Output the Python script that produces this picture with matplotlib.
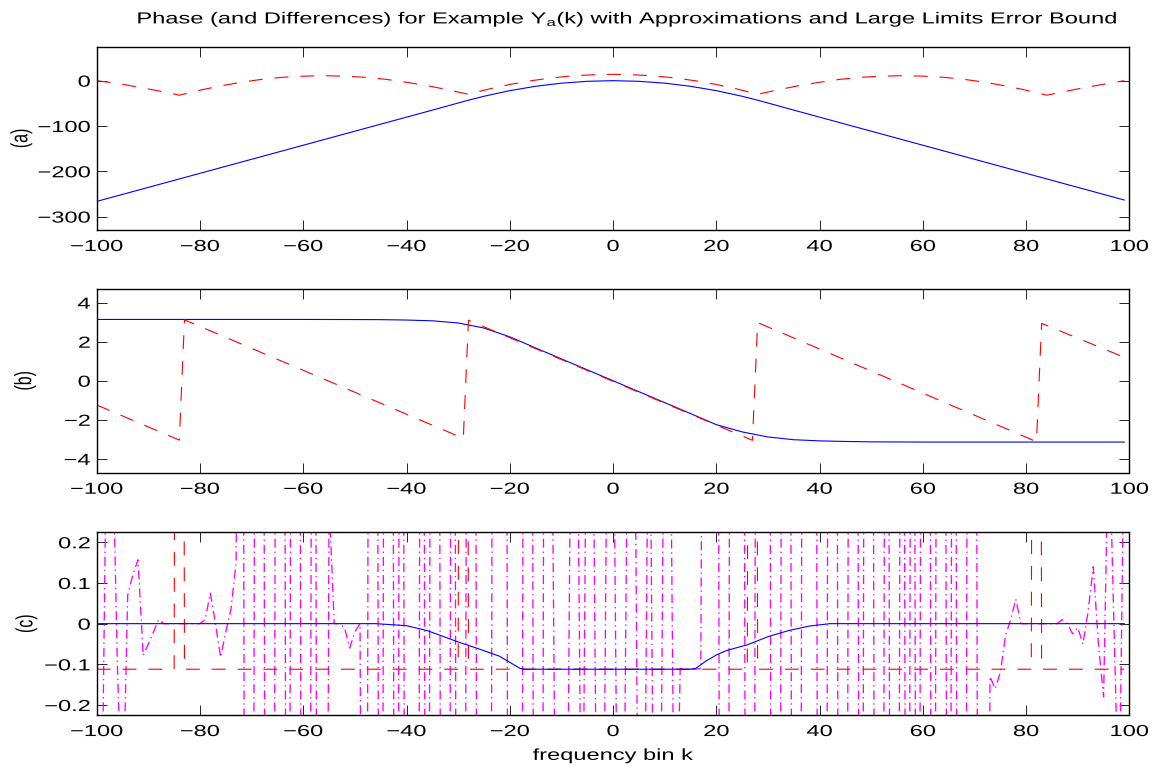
import numpy as np
import matplotlib
matplotlib.use("Agg")
import matplotlib.pyplot as plt
from matplotlib import patheffects
from matplotlib.transforms import Affine2D

plt.rcParams['font.family'] = ['Liberation Sans', 'DejaVu Sans']
plt.rcParams['mathtext.fontset'] = 'custom'
plt.rcParams['mathtext.rm'] = 'Liberation Sans'
plt.rcParams['lines.scale_dashes'] = False

# --- data ---
k_blue_a = [-100, -90, -80, -70, -60, -50, -40, -35, -30, -28, -25, -20, -15, -10, -5, 0,
            5, 10, 15, 20, 25, 28, 30, 35, 40, 50, 60, 70, 80, 90, 99]
blue_a = [-266.5, -235.5, -204.5, -173.5, -142.5, -111.5, -80.5, -65, -49.3, -43.1, -34.4, -22, -12.4, -5.5, -1.4, 0,
          -1.4, -5.5, -12.4, -22, -34.4, -43.1, -49.3, -65, -80.5, -111.5, -142.5, -173.5, -204.5, -235.5, -263.4]

k_red_a = [-100, -96, -92, -88, -84, -80, -76, -72, -68, -64, -60, -56, -52, -48, -44, -40, -36, -32, -28,
           -24, -20, -16, -12, -8, -4, 0, 4, 8, 12, 16, 20, 24,
           28, 32, 36, 40, 44, 48, 52, 56, 60, 64, 68, 72, 76, 80, 84, 88, 92, 96, 99]
red_a = [0, -6, -14, -22.5, -32, -21, -11.5, -3.5, 3, 7.5, 10, 11, 10, 7.5, 3, -3.5, -11, -20, -30,
         -18.3, -8.4, -0.3, 6, 10.5, 13, 14, 13, 10.5, 6, -0.3, -8.4, -18.3,
         -30, -20, -11, -3.5, 3, 7.5, 10, 11, 10, 7.5, 3, -3.5, -11.5, -21, -32, -22.5, -14, -6, 0]

k_blue_b = [-100, -60, -50, -45, -40, -35, -30, -25, -20, -15, -10, -5, 0,
            5, 10, 15, 20, 25, 30, 35, 40, 45, 50, 60, 99]
blue_b = [3.14, 3.14, 3.135, 3.13, 3.11, 3.07, 2.96, 2.7, 2.25, 1.68, 1.12, 0.56, 0,
          -0.56, -1.12, -1.68, -2.25, -2.62, -2.88, -3.02, -3.08, -3.11, -3.13, -3.14, -3.14]

k_red_b = [-100, -84, -83, -29, -28, 27, 28, 82, 83, 99]
red_b = [-1.24, -3.04, 3.12, -2.95, 3.1, -3.05, 2.98, -3.12, 2.94, 1.2]

k_blue_c = [-100, -46, -40, -36, -30, -26, -22, -20, -18, -17, 15, 16, 18, 20, 22, 26, 30, 34, 38, 42, 99]
blue_c = [0, 0, -0.005, -0.017, -0.045, -0.062, -0.08, -0.095, -0.11, -0.112, -0.112, -0.11,
          -0.092, -0.077, -0.066, -0.052, -0.032, -0.017, -0.006, 0, 0]

k_red_c = [-100, -85, -84, -83, -30, -29, -28, 26, 27, 28, 81, 82, 83, 99]
red_c = [-0.112, -0.112, 6.17, -0.112, -0.112, 6.17, -0.112, -0.112, 6.17, -0.112, -0.112, 6.17, -0.112, -0.112]

k_mag = np.arange(-100, 100)
mag_c = [
    -0.6, -0.5, 0.6, 0.5, -0.1, -0.5, 0.07, 0.12, 0.157, -0.078,
    -0.05, -0.02, 0.01, 0.0, 0.0, 0.0, 0.0, 0.0, 0.0, 0.0,
    0.0, 0.01, 0.075, 0.0, -0.083, -0.02, 0.035, 0.15,
    3.1, -3.0, -2.9, 3.0, 2.8, -3.1, -3.0, 2.9, 3.1, -2.8,
    3.0, 2.9, -3.1, -2.9, 3.0, -3.0, -2.9, 0.3, 0.0, 0.0,
    -0.01, -0.06, -0.02, 0.0,
    -3.0, 3.0, 2.9, -3.0, 3.1, 2.9, -3.0, 3.0, -2.9, -3.1,
    -3.0, 3.0, -3.0, 3.1, 2.9, -3.0, -2.9, 3.0, -3.1, -3.0,
    2.9, 3.0, -3.0, -2.9, -3.1, 3.0, 2.9, 3.1, -3.0, -2.9,
    -3.0, 3.0, 2.9, -3.0, -2.9, 3.0,
    0.8, -0.8, -0.7, -0.8, 0.8, 0.7, -0.8, 0.8, 0.7, -0.8,
    -0.9, 0.8, 0.7, -0.8, -0.7, 0.8, 0.9, -0.8, -0.7, 0.8,
    -0.8, -0.9, 0.8, 0.7, -0.8, -0.11,
    -0.112, -0.112, -0.112, -0.11, 3.0, 2.9, 3.1, -3.0, -2.9, 3.0,
    2.9, 3.1, -3.0, -2.9, 3.0, 3.1, 2.9, -3.0, -3.1, 3.0,
    2.9, -3.0, -2.9, 3.0, 3.1, 2.9, -3.0, -3.1, 3.0, 2.9,
    -3.0, -2.9, 3.0, 3.1, -3.0, 3.0, 2.9, -3.0, -2.9, 3.0,
    -3.0, -2.9, 3.0, -3.0, 3.0, -3.0, 3.0, 2.9, -3.0, 3.0,
    3.1, -3.0, 3.0, -3.0, -2.9, 3.0, 2.9, -3.0, -2.9,
    -0.13, -0.16, -0.12, -0.03, 0.01, 0.06, 0.0, 0.0, 0.0, 0.0,
    0.0, 0.0, 0.0, 0.0, 0.01, 0.0, -0.025, -0.01, -0.05, 0.03,
    0.14, -0.05, -0.18, 0.5, 0.0, -0.5, 0.5,
]

xticks = [-100, -80, -60, -40, -20, 0, 20, 40, 60, 80, 100]
xticklabels = ['\u2212100', '\u221280', '\u221260', '\u221240', '\u221220', '0',
               '20', '40', '60', '80', '100']
yticks_a = [-300, -200, -100, 0]
yticklabels_a = ['\u2212300', '\u2212200', '\u2212100', '0']
yticks_b = [-4, -2, 0, 2, 4]
yticklabels_b = ['\u22124', '\u22122', '0', '2', '4']
yticks_c = [-0.2, -0.1, 0, 0.1, 0.2]
yticklabels_c = ['\u22120.2', '\u22120.1', '0', '0.1', '0.2']

title = 'Phase (and Differences) for Example $\\mathregular{Y_a}$(k) with Approximations and Large Limits Error Bound'


class StretchX(patheffects.AbstractPathEffect):
    # widen glyphs horizontally, the reference text is stretched
    def __init__(self, sx, anchor='center'):
        super().__init__()
        self.sx = sx
        self.anchor = anchor

    def draw_path(self, renderer, gc, tpath, affine, rgbFace=None):
        ext = affine.transform_path(tpath).get_extents()
        x0 = ext.x1 if self.anchor == 'right' else 0.5 * (ext.x0 + ext.x1)
        t = affine + Affine2D().translate(-x0, 0).scale(self.sx, 1).translate(x0, 0)
        renderer.draw_path(gc, tpath, t, rgbFace)


SX = 1.48
FS = 11.5
W, H = 1153, 765
fig = plt.figure(figsize=(W / 100, H / 100), dpi=100)
fig.patch.set_facecolor('white')

left = 96.7 / W
width = 1032.7 / W
boxes = [(46.7, 230.0), (288.8, 472.7), (532.3, 715.0)]
axes = [fig.add_axes([left, 1 - b / H, width, (b - t) / H]) for t, b in boxes]

dash = (0, (10, 8.6))
dashdot = (0, (6.5, 2.8, 1.0, 2.8))
lw = 0.8

ax = axes[0]
ax.plot(k_blue_a, blue_a, color='blue', lw=lw)
ax.plot(k_red_a, red_a, color='red', lw=lw, linestyle=dash)
ax.set_ylim(-329.6, 75)
ax.set_yticks(yticks_a)
ax.set_yticklabels(yticklabels_a)
ax.set_ylabel('(a)')
ax.yaxis.set_label_coords(-0.0627, 0.5)

ax = axes[1]
ax.plot(k_blue_b, blue_b, color='blue', lw=lw)
ax.plot(k_red_b, red_b, color='red', lw=lw, linestyle=dash)
ax.set_ylim(-4.71, 4.71)
ax.set_yticks(yticks_b)
ax.set_yticklabels(yticklabels_b)
ax.set_ylabel('(b)')
ax.yaxis.set_label_coords(-0.059, 0.5)

ax = axes[2]
ax.plot(k_mag, mag_c, color='magenta', lw=0.95, linestyle=dashdot)
ax.plot(k_red_c, red_c, color='red', lw=lw, linestyle=dash)
ax.plot(k_blue_c, blue_c, color='blue', lw=lw)
ax.set_ylim(-0.2245, 0.2245)
ax.set_yticks(yticks_c)
ax.set_yticklabels(yticklabels_c)
ax.set_ylabel('(c)')
ax.yaxis.set_label_coords(-0.0578, 0.5)
ax.set_xlabel('frequency bin k', fontsize=FS)
ax.xaxis.set_label_coords(0.5, -0.18)

for ax in axes:
    ax.set_xlim(-100, 100)
    ax.set_xticks(xticks)
    ax.set_xticklabels(xticklabels)
    ax.tick_params(direction='in', length=7.2, width=0.6, top=True, right=True,
                   labelsize=FS, colors='black')
    ax.tick_params(axis='y', pad=4.5)
    ax.tick_params(axis='x', pad=6.5)
    for s in ax.spines.values():
        s.set_linewidth(1.0)
    ax.yaxis.label.set_fontsize(FS)
    ax.yaxis.label.set_path_effects([StretchX(SX, 'right')])
    ax.xaxis.label.set_path_effects([StretchX(SX, 'center')])
    for lab in ax.get_xticklabels():
        lab.set_path_effects([StretchX(SX, 'center')])
    for lab in ax.get_yticklabels():
        lab.set_path_effects([StretchX(SX, 'right')])

t = fig.text(628 / W, 1 - 19 / H, title, ha='center', va='center', fontsize=FS)
t.set_path_effects([StretchX(SX, 'center')])

fig.savefig('out.png', dpi=100, facecolor='white')
